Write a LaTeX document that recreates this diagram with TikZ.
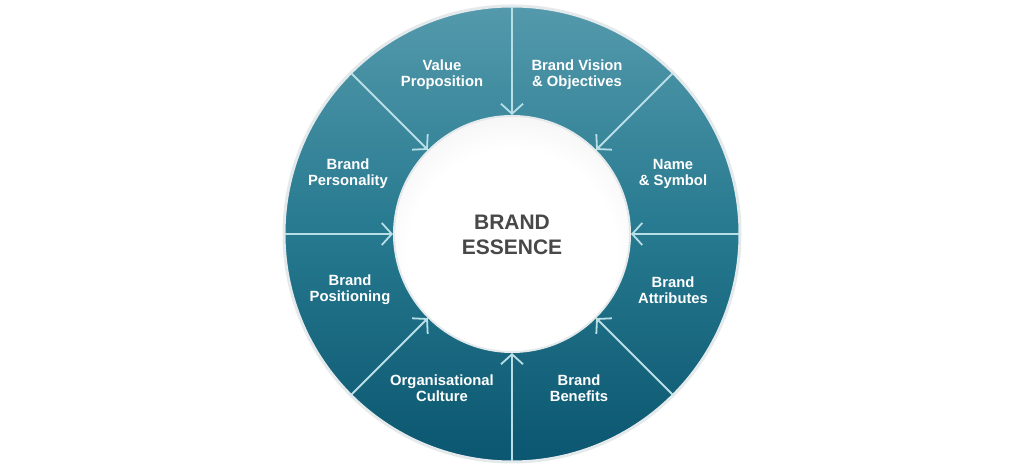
\documentclass[tikz,border=0pt]{standalone}
\usepackage{fontspec}
\setmainfont{Liberation Sans}
\usetikzlibrary{arrows.meta,calc}
\definecolor{ringtop}{HTML}{5499AC}
\definecolor{ringmid}{HTML}{26798F}
\definecolor{ringbot}{HTML}{0B5670}
\definecolor{divider}{HTML}{B8DEE6}
\definecolor{rim}{HTML}{E4EAEC}
\definecolor{coregray}{HTML}{E0E0E0}
\definecolor{corelight}{HTML}{EDEDED}
\definecolor{coretext}{HTML}{484848}
\pgfdeclareradialshading{coreshade}{\pgfpoint{0bp}{-6bp}}{color(0bp)=(white); color(22bp)=(white); color(36bp)=(corelight); color(50bp)=(coregray); color(70bp)=(coregray)}
\tikzset{
  seglabel/.style={text=white, font=\fontsize{14.8}{16}\selectfont\bfseries, align=center, inner sep=0pt},
  corelabel/.style={text=coretext, font=\fontsize{21}{25}\selectfont\bfseries, align=center, inner sep=0pt},
  spoke/.style={draw=divider, line width=1.8pt, -{Straight Barb[length=10pt, width=22pt, line width=1.8pt]}},
}
\begin{document}
\begin{tikzpicture}[x=1pt,y=1pt]
\useasboundingbox (0,0) rectangle (1024,470);
\fill[white] (0,0) rectangle (1024,470);
\coordinate (c) at (512,236);
% ring
\shade[top color=ringtop, bottom color=ringbot, middle color=ringmid] (c) circle (227);
\draw[rim, line width=3pt] (c) circle (228);
% spokes endpoints
\foreach \a [count=\k from 0] in {90,45,0,-45,-90,-135,180,135} {
  \coordinate (o\k) at ($(c)+(\a:227)$);
  \coordinate (i\k) at ($(c)+(\a:119)$);
}
% core
\shade[shading=coreshade] (c) circle (118);
\draw[rim, line width=2pt] (c) circle (118);
\foreach \k in {0,...,7} { \draw[spoke] (o\k) -- (i\k); }
% labels
\node[seglabel] (vp) at (442,395) {Value\\Proposition};
\node[seglabel] (bv) at (577,395) {Brand Vision\\\& Objectives};
\node[seglabel] (ns) at (673,296) {Name\\\& Symbol};
\node[seglabel] (ba) at (673,180) {Brand\\Attributes};
\node[seglabel] (bb) at (579,82) {Brand\\Benefits};
\node[seglabel] (oc) at (442,82) {Organisational\\Culture};
\node[seglabel] (bpo) at (350,180) {Brand\\Positioning};
\node[seglabel] (bpe) at (348,296) {Brand\\Personality};
\node[corelabel] (be) at (512,235) {BRAND\\ESSENCE};
\end{tikzpicture}
\end{document}
